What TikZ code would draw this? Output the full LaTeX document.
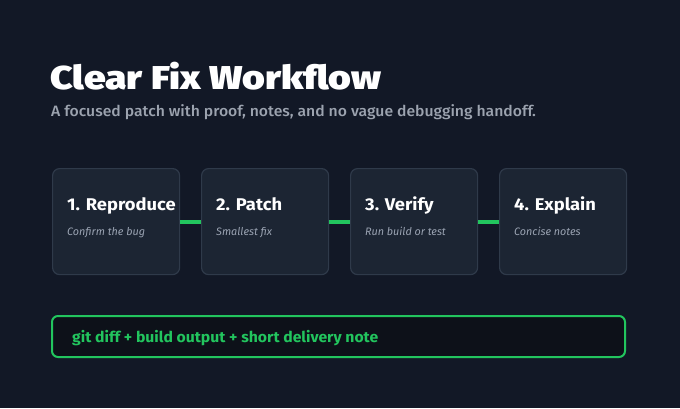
\documentclass[tikz,border=0pt]{standalone}
\usepackage{fontspec}
\setmainfont{Fira Sans}
\newfontfamily\titlefont{Fira Sans Black}[FakeStretch=1.18]
\newfontfamily\medfont{Fira Sans Medium}[FakeStretch=1.05]
\newfontfamily\boldfont{Fira Sans Bold}[FakeStretch=1.08]
\newfontfamily\codefont{Fira Sans Bold}[FakeStretch=1.05]
\newfontfamily\notefont{Fira Sans Italic}[FakeStretch=1.0]
\definecolor{bg}{HTML}{121826}
\definecolor{card}{HTML}{1C2533}
\definecolor{cardline}{HTML}{2F3A4A}
\definecolor{accent}{HTML}{22C55E}
\definecolor{subgray}{HTML}{9CA3AF}
\definecolor{notegray}{HTML}{9AA3B2}
\definecolor{codebg}{HTML}{0D1119}
\begin{document}
\begin{tikzpicture}[x=1pt,y=-1pt,
  stepbox/.style={draw=cardline, line width=1.2pt, fill=card, rounded corners=7pt, minimum width=127pt, minimum height=106pt, anchor=north west},
  steptitle/.style={anchor=base west, text=white, font=\fontsize{17}{20}\boldfont, inner sep=0pt},
  stepnote/.style={anchor=base west, text=notegray, font=\fontsize{10.8}{13}\notefont, inner sep=0pt},
  link/.style={draw=accent, line width=4pt}]
\fill[bg] (0,0) rectangle (680,408);
\useasboundingbox (0,0) rectangle (680,408);
\node[anchor=base west, text=white, inner sep=0pt, font=\fontsize{33}{38}\titlefont] (title) at (50,89) {Clear Fix Workflow};
\node[anchor=base west, text=subgray, inner sep=0pt, font=\fontsize{15}{18}\medfont] (sub) at (51,116) {A focused patch with proof, notes, and no vague debugging handoff.};
\node[stepbox] (s1) at (52,168) {};
\node[stepbox] (s2) at (201,168) {};
\node[stepbox] (s3) at (350,168) {};
\node[stepbox] (s4) at (499,168) {};
\node[steptitle] (t1) at (67,210) {1. Reproduce};
\node[steptitle] (t2) at (216,210) {2. Patch};
\node[steptitle] (t3) at (365,210) {3. Verify};
\node[steptitle] (t4) at (514,210) {4. Explain};
\node[stepnote] (n1) at (67,235) {Confirm the bug};
\node[stepnote] (n2) at (216,235) {Smallest fix};
\node[stepnote] (n3) at (365,235) {Run build or test};
\node[stepnote] (n4) at (514,235) {Concise notes};
\draw[link] ([yshift=-0.5pt]s1.east) -- ([yshift=-0.5pt]s2.west);
\draw[link] ([yshift=-0.5pt]s2.east) -- ([yshift=-0.5pt]s3.west);
\draw[link] ([yshift=-0.5pt]s3.east) -- ([yshift=-0.5pt]s4.west);
\node[draw=accent, line width=2pt, fill=codebg, rounded corners=6pt, minimum width=573pt, minimum height=41pt, anchor=north west] (out) at (51,315) {};
\node[anchor=base west, text=accent, inner sep=0pt, font=\fontsize{15}{18}\codefont] (outt) at (72,342) {git diff + build output + short delivery note};
\end{tikzpicture}
\end{document}
